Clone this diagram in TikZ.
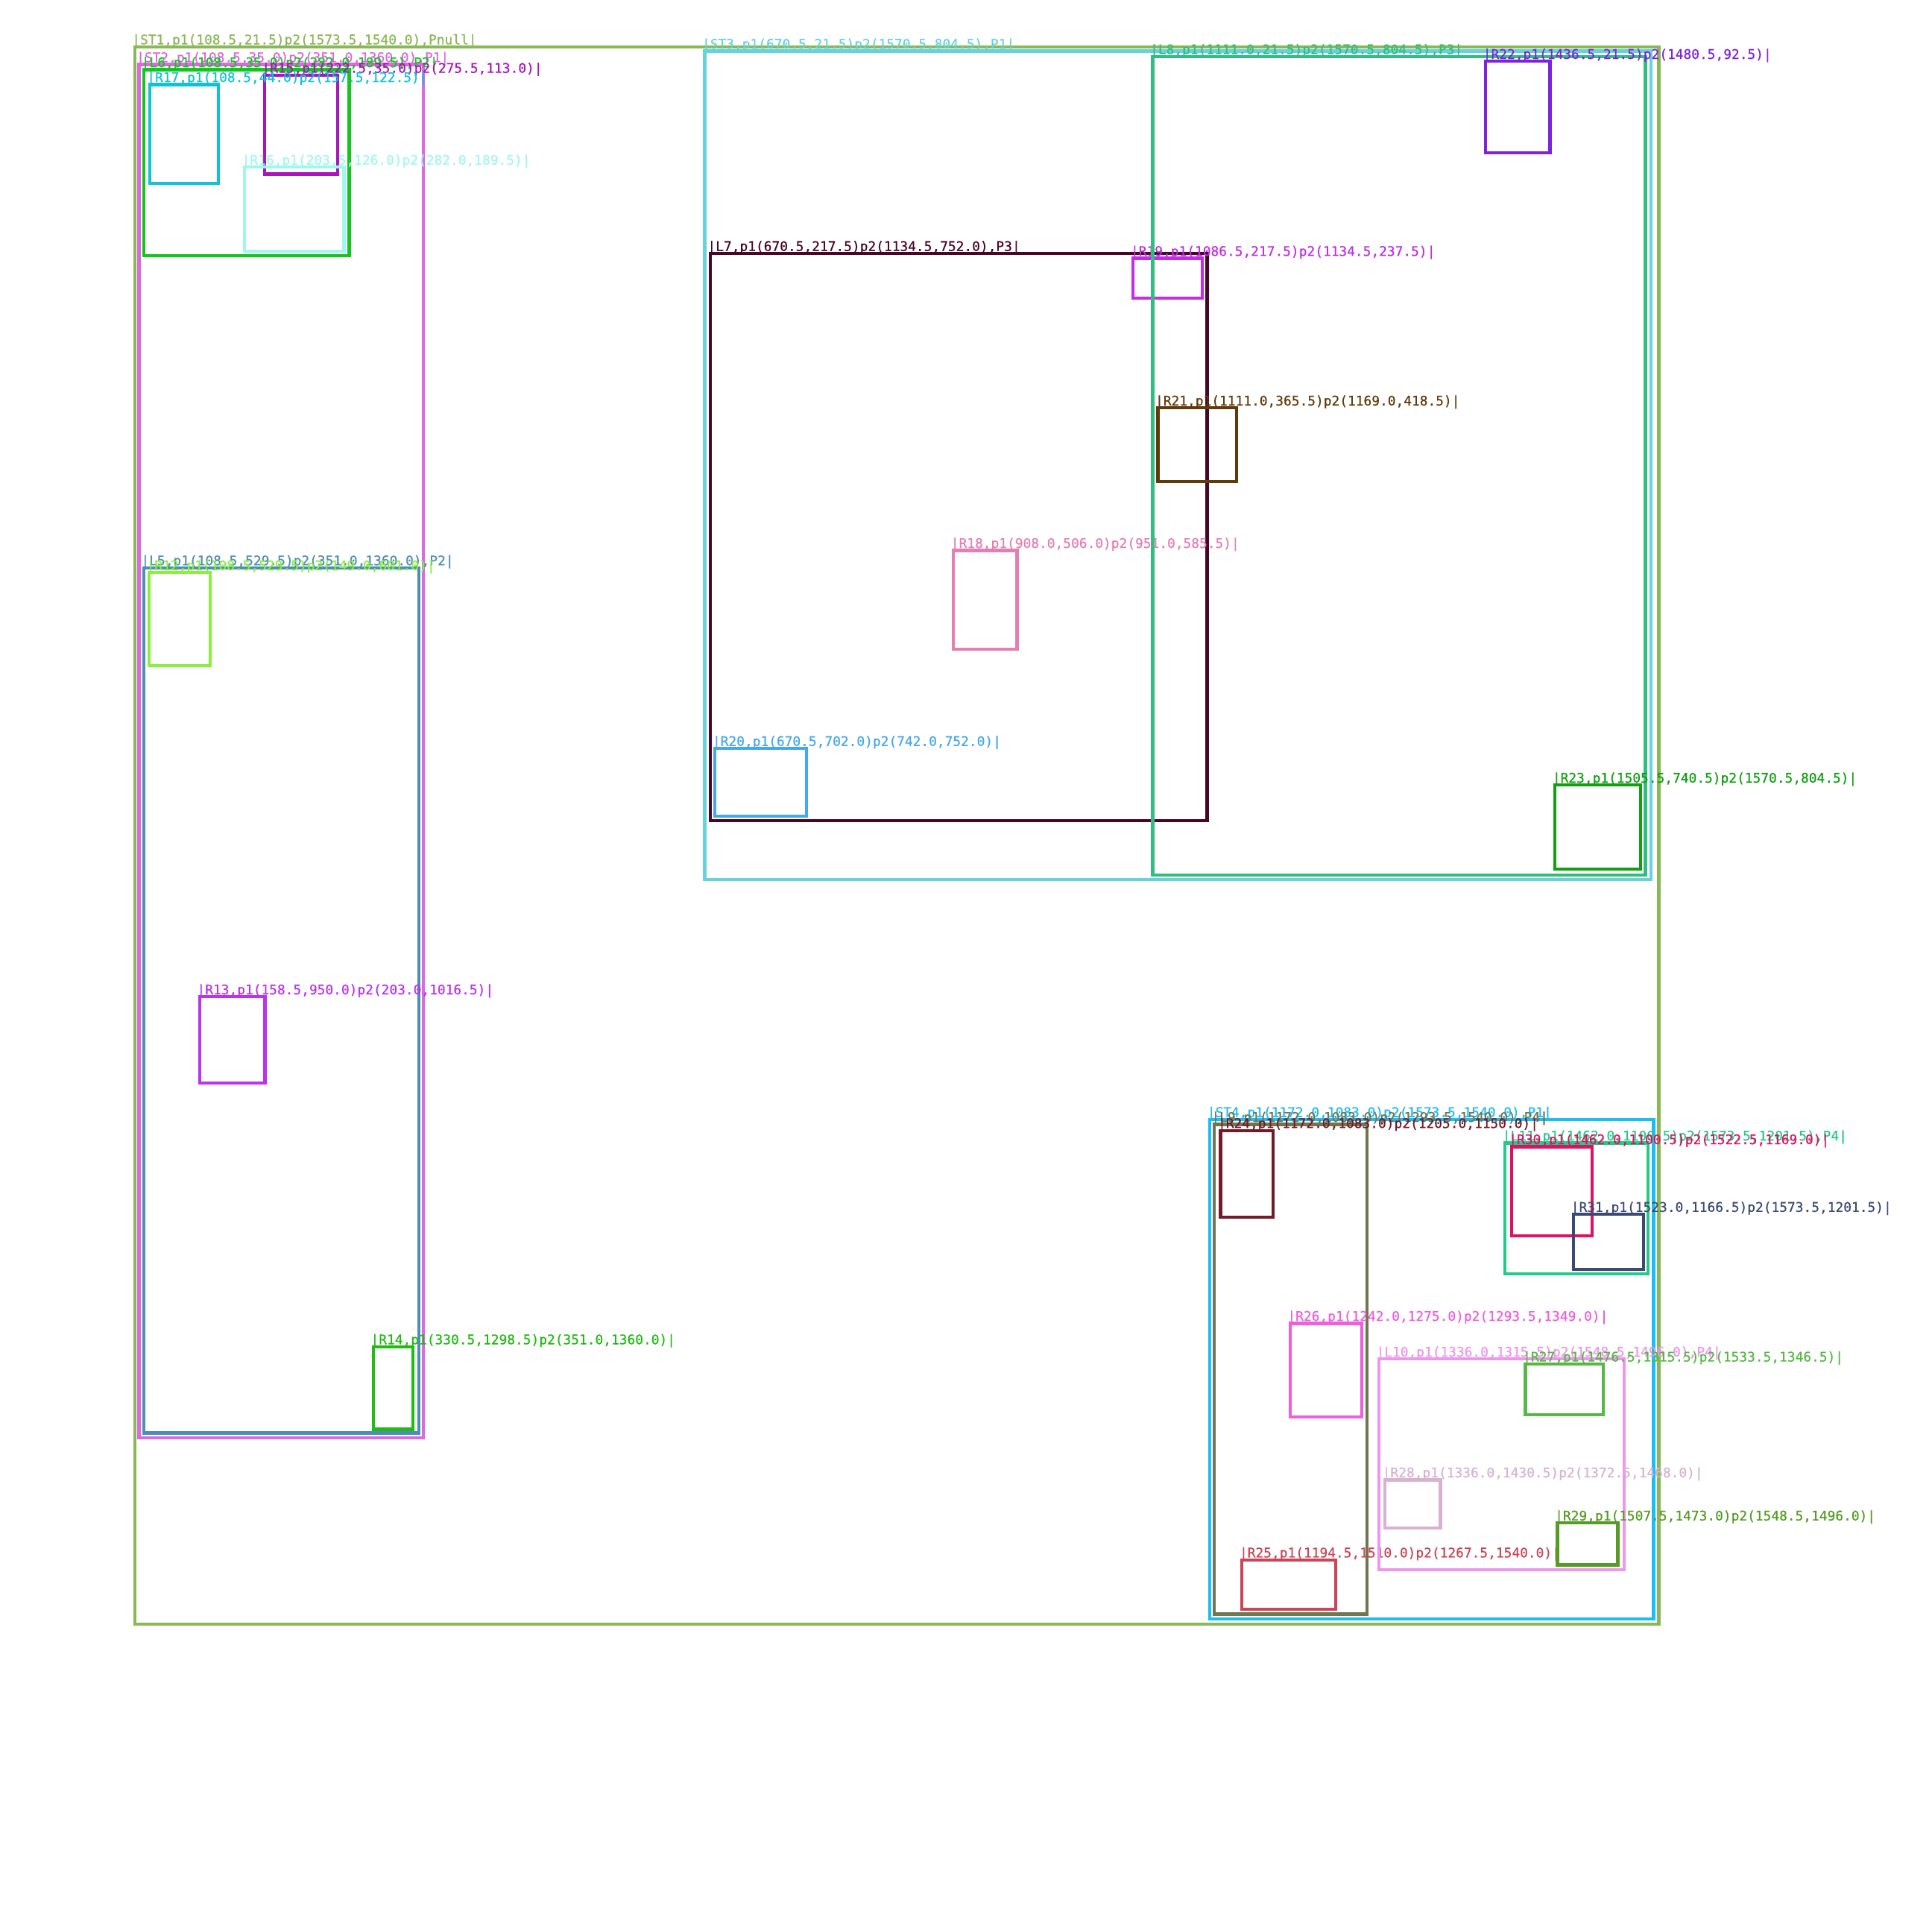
\documentclass[tikz,border=0pt]{standalone}
\usepackage{fontspec}
\newfontfamily\lblfont[FakeBold=0.6]{DejaVu Sans Mono}
\begin{document}
\begin{tikzpicture}[x=1pt,y=-1pt,
  box/.style={line width=2.6pt},
  lbl/.style={inner sep=0pt, anchor=base west, font=\lblfont\fontsize{10.8}{12}\selectfont}]
\fill[white] (0,0) rectangle (1568,1568);
\useasboundingbox (0,0) rectangle (1568,1568);
\definecolor{cST1}{RGB}{139,184,86}
\definecolor{cST2}{RGB}{218,106,222}
\definecolor{cL6}{RGB}{17,199,30}
\definecolor{cR15}{RGB}{170,20,188}
\definecolor{cR17}{RGB}{16,194,214}
\definecolor{cR16}{RGB}{160,247,238}
\definecolor{cL5}{RGB}{77,143,180}
\definecolor{cR12}{RGB}{138,240,60}
\definecolor{cR13}{RGB}{187,51,238}
\definecolor{cR14}{RGB}{34,187,20}
\definecolor{cST3}{RGB}{102,210,218}
\definecolor{cL8}{RGB}{48,190,128}
\definecolor{cR22}{RGB}{127,34,224}
\definecolor{cL7}{RGB}{72,5,38}
\definecolor{cR19}{RGB}{192,46,230}
\definecolor{cR21}{RGB}{96,58,8}
\definecolor{cR18}{RGB}{228,127,180}
\definecolor{cR20}{RGB}{68,168,238}
\definecolor{cR23}{RGB}{18,160,18}
\definecolor{cST4}{RGB}{24,190,245}
\definecolor{cL9}{RGB}{112,118,80}
\definecolor{cR24}{RGB}{112,26,42}
\definecolor{cL11}{RGB}{34,204,136}
\definecolor{cR30}{RGB}{221,17,102}
\definecolor{cR31}{RGB}{60,74,114}
\definecolor{cR26}{RGB}{238,94,221}
\definecolor{cL10}{RGB}{236,150,236}
\definecolor{cR27}{RGB}{85,185,68}
\definecolor{cR28}{RGB}{216,178,208}
\definecolor{cR29}{RGB}{85,155,36}
\definecolor{cR25}{RGB}{204,68,85}
\newcommand{\bx}[7]{%
  \draw[box, draw=#2] (#3,#4) rectangle (#5,#6);
  \node[lbl, text=#2] (#1) at ({#3-2.2},{#4-2}) {#7};}
% ST1
\bx{ST1}{cST1}{109.3}{38}{1346.2}{1318}{|ST1,p1(108.5,21.5)p2(1573.5,1540.0),Pnull|}
% ST2 branch
\bx{ST2}{cST2}{112.8}{52.4}{343.6}{1167}{|ST2,p1(108.5,35.0)p2(351.0,1360.0),P1|}
\bx{L6}{cL6}{116.8}{56.5}{283.4}{207.7}{|L6,p1(108.5,35.0)p2(282.0,189.5),P2|}
\bx{R15}{cR15}{214.6}{61.1}{274.2}{141.2}{|R15,p1(222.5,35.0)p2(275.5,113.0)|}
\bx{R17}{cR17}{121.4}{68.6}{177.4}{148.8}{|R17,p1(108.5,44.0)p2(157.5,122.5)|}
\bx{R16}{cR16}{198.4}{135.7}{279.2}{203.7}{|R16,p1(203.5,126.0)p2(282.0,189.5)|}
\bx{L5}{cL5}{116.6}{460.8}{339.8}{1163}{|L5,p1(108.5,529.5)p2(351.0,1360.0),P2|}
\bx{R12}{cR12}{121}{464.8}{170.8}{540}{|R12,p1(108.5,529.5)p2(149.0,601.0)|}
\bx{R13}{cR13}{162}{809}{215}{879}{|R13,p1(158.5,950.0)p2(203.0,1016.5)|}
\bx{R14}{cR14}{303}{1093}{335}{1160}{|R14,p1(330.5,1298.5)p2(351.0,1360.0)|}
% ST3 branch
\bx{ST3}{cST3}{571.9}{41.5}{1339.8}{714}{|ST3,p1(670.5,21.5)p2(1570.5,804.5),P1|}
\bx{L7}{cL7}{576.4}{205.7}{979.6}{666}{|L7,p1(670.5,217.5)p2(1134.5,752.0),P3|}
\bx{R19}{cR19}{919.7}{209.7}{975.7}{242}{|R19,p1(1086.5,217.5)p2(1134.5,237.5)|}
\bx{R18}{cR18}{773.8}{446.7}{825.4}{527}{|R18,p1(908.0,506.0)p2(951.0,585.5)|}
\bx{R20}{cR20}{580.3}{607.4}{654.4}{662.5}{|R20,p1(670.5,702.0)p2(742.0,752.0)|}
\bx{L8}{cL8}{935.5}{46}{1335.4}{710}{|L8,p1(1111.0,21.5)p2(1570.5,804.5),P3|}
\bx{R22}{cR22}{1205.7}{49.8}{1258}{124}{|R22,p1(1436.5,21.5)p2(1480.5,92.5)|}
\bx{R21}{cR21}{939.7}{331.1}{1003.6}{390.8}{|R21,p1(1111.0,365.5)p2(1169.0,418.5)|}
\bx{R23}{cR23}{1262}{637.2}{1331.5}{705.5}{|R23,p1(1505.5,740.5)p2(1570.5,804.5)|}
% ST4 branch
\bx{ST4}{cST4}{981.8}{908.5}{1342}{1314}{|ST4,p1(1172.0,1083.0)p2(1573.5,1540.0),P1|}
\bx{L9}{cL9}{985.3}{912.5}{1109.6}{1310}{|L9,p1(1172.0,1083.0)p2(1293.5,1540.0),P4|}
\bx{R24}{cR24}{990.5}{917.5}{1033.2}{988}{|R24,p1(1172.0,1083.0)p2(1205.0,1150.0)|}
\bx{R26}{cR26}{1047}{1074}{1105}{1150}{|R26,p1(1242.0,1275.0)p2(1293.5,1349.0)|}
\bx{R25}{cR25}{1008}{1266}{1084}{1306}{|R25,p1(1194.5,1510.0)p2(1267.5,1540.0)|}
\bx{L11}{cL11}{1221.4}{927.6}{1337.6}{1034}{|L11,p1(1462.0,1100.5)p2(1573.5,1201.5),P4|}
\bx{R30}{cR30}{1226.6}{930.6}{1292.2}{1003}{|R30,p1(1462.0,1100.5)p2(1522.5,1169.0)|}
\bx{R31}{cR31}{1277.1}{985.5}{1333.9}{1030}{|R31,p1(1523.0,1166.5)p2(1573.5,1201.5)|}
\bx{L10}{cL10}{1119}{1103}{1318}{1274}{|L10,p1(1336.0,1315.5)p2(1548.5,1496.0),P4|}
\bx{R27}{cR27}{1238}{1107}{1301}{1148}{|R27,p1(1476.5,1315.5)p2(1533.5,1346.5)|}
\bx{R28}{cR28}{1124}{1201}{1169}{1240}{|R28,p1(1336.0,1430.5)p2(1372.5,1468.0)|}
\bx{R29}{cR29}{1264}{1236}{1313}{1270}{|R29,p1(1507.5,1473.0)p2(1548.5,1496.0)|}
\end{tikzpicture}
\end{document}
